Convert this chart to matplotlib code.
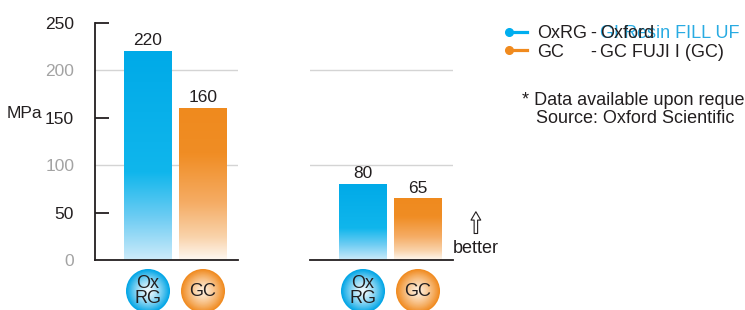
import matplotlib.pyplot as plt
import numpy as np
from matplotlib.colors import LinearSegmentedColormap, to_rgb
from matplotlib.patches import Circle
from matplotlib.lines import Line2D

plt.rcParams['font.family'] = ['Liberation Sans', 'DejaVu Sans']

# data
codes = ['OxRG', 'GC']
circle_labels = ['Ox\nRG', 'GC']
values_left = [220, 160]
values_right = [80, 65]
yticks = [0, 50, 100, 150, 200, 250]
grid_vals = [100, 200]

dark = '#231f20'
gray_lbl = '#a3a3a3'
blue_stops = [(0.0, '#cdebfa'), (0.2, '#6fcdf3'), (0.42, '#10b6ec'), (1.0, '#00aae8')]
orange_stops = [(0.0, '#fef8f1'), (0.15, '#f9d3ab'), (0.38, '#f5ac64'), (0.7, '#f08d24'), (1.0, '#ef8a1e')]
cmaps = [LinearSegmentedColormap.from_list('b', blue_stops),
         LinearSegmentedColormap.from_list('o', orange_stops)]
circ_cols = [('#00a5e6', '#eef9fe'), ('#f08a1e', '#feecd8')]

W, H = 745, 310
fig = plt.figure(figsize=(W / 100, H / 100), dpi=100)

ov = fig.add_axes([0, 0, 1, 1], zorder=-1)
ov.set_xlim(0, W)
ov.set_ylim(0, H)
ov.axis('off')

ax1 = fig.add_axes([95 / W, 50 / H, 143 / W, 237.3 / H])
ax2 = fig.add_axes([310 / W, 50 / H, 143 / W, 237.3 / H])

grad = np.linspace(0, 1, 256).reshape(-1, 1)

for ax, vals in [(ax1, values_left), (ax2, values_right)]:
    x = np.arange(len(vals))
    ax.set_xlim(-0.964, 1.636)
    ax.set_ylim(0, 250)
    for g in grid_vals:
        ax.axhline(g, color='#d4d4d4', lw=1.0, zorder=0)
    bars = ax.bar(x, vals, width=0.87, color='none', zorder=2)
    for b, cm in zip(bars, cmaps):
        x0, w, h = b.get_x(), b.get_width(), b.get_height()
        im = ax.imshow(grad, extent=[x0, x0 + w, 0, h], origin='lower',
                       cmap=cm, aspect='auto', zorder=2)
        im.set_clip_path(b)
    ax.bar_label(bars, labels=[str(v) for v in vals], padding=2,
                 fontsize=12.5, color=dark)
    for s in ['top', 'right']:
        ax.spines[s].set_visible(False)
    ax.spines['bottom'].set_color(dark)
    ax.spines['bottom'].set_linewidth(1.3)
    ax.spines['bottom'].set_zorder(3)
    ax.set_xticks([])

ax1.spines['left'].set_color(dark)
ax1.spines['left'].set_linewidth(1.3)
ax1.set_yticks(yticks)
ax1.set_yticklabels([str(t) for t in yticks], fontsize=12.5)
ax1.tick_params(axis='y', direction='in', length=10, width=1.3, color=dark, pad=15)
for t, tk in zip(yticks, ax1.yaxis.get_major_ticks()):
    if t in grid_vals or t == 0:
        tk.tick1line.set_visible(False)
        tk.label1.set_color(gray_lbl)
    else:
        tk.label1.set_color(dark)

ax2.spines['left'].set_visible(False)
ax2.set_yticks([])

fig.text(7 / W, 1 - 113 / H, 'MPa', fontsize=12.5, color=dark, va='center')

# arrow + "better"
ax2.annotate('', xy=(1.16, 0.215), xytext=(1.16, 0.1), xycoords='axes fraction',
             arrowprops=dict(arrowstyle='simple,head_width=0.7,head_length=0.6,tail_width=0.25',
                             fc='white', ec=dark, lw=0.8))
ax2.text(1.0, 0.05, 'better', transform=ax2.transAxes, fontsize=13, color=dark,
         ha='left', va='center')

# circle labels under the bars
for ax in (ax1, ax2):
    for i, (lab, (edge, center)) in enumerate(zip(circle_labels, circ_cols)):
        cx, base_y = ax.transData.transform((i, 0))
        cy = base_y - 31
        r = 22
        e, c = np.array(to_rgb(edge)), np.array(to_rgb(center))
        n = 30
        for k in range(n):
            f = k / (n - 1)
            col = e * (1 - f) ** 1.3 + c * (1 - (1 - f) ** 1.3)
            ov.add_patch(Circle((cx, cy), r * (1 - f * 0.95), color=col, lw=0))
        ov.text(cx, cy, lab, fontsize=13, color=dark, ha='center', va='center',
                linespacing=0.85)

# legend block
for yy, col in [(H - 32, '#00aeef'), (H - 50, '#f08a1e')]:
    ov.add_line(Line2D([508, 527], [yy, yy], color=col, lw=2.3))
    ov.plot([509], [yy], 'o', color=col, ms=5.5)
fs = 13
ov.text(537, H - 38, 'OxRG', fontsize=fs, color=dark, va='baseline')
ov.text(590, H - 38, '-', fontsize=fs, color=dark, va='baseline')
ov.text(600, H - 38, 'GI Resin FILL UF', fontsize=fs, color='#29abe2', va='baseline')
ov.text(600, H - 38, 'Oxford', fontsize=fs, color=dark, va='baseline')
ov.text(537, H - 57, 'GC', fontsize=fs, color=dark, va='baseline')
ov.text(590, H - 57, '-', fontsize=fs, color=dark, va='baseline')
ov.text(600, H - 57, 'GC FUJI I (GC)', fontsize=fs, color=dark, va='baseline')
ov.text(522, H - 105, '* Data available upon request', fontsize=fs, color=dark, va='baseline')
ov.text(536, H - 123, 'Source: Oxford Scientific', fontsize=fs, color=dark, va='baseline')

fig.savefig('out.png', dpi=100)
